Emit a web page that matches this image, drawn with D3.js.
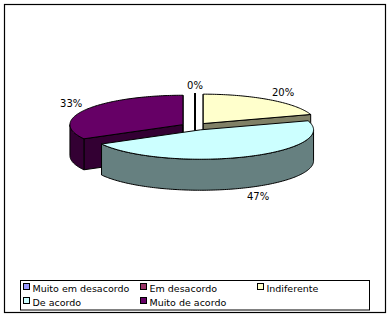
<!DOCTYPE html>
<html>
<head>
<meta charset="utf-8">
<script src="https://cdn.jsdelivr.net/npm/d3@7"></script>
<style>
  body { margin: 0; background: #fff; }
  svg { display: block; }
  text { font-family: Verdana, "DejaVu Sans", sans-serif; fill: #000; }
</style>
</head>
<body>
<svg id="chart" width="391" height="318"></svg>
<script>
// data
var categories = ["Muito em desacordo", "Em desacordo", "Indiferente", "De acordo", "Muito de acordo"];
var values = [0, 0, 20, 47, 33];
var labels = ["0%", "0%", "20%", "47%", "33%"];
var topColors = ["#9999FF", "#993366", "#FFFFCC", "#CCFFFF", "#660066"];
var sideColors = ["#4C4C80", "#4C1933", "#808066", "#668080", "#330033"];

var width = 391, height = 318,
    cx = 195, cy = 126.5, rx = 113, ry = 29.4, depth = 31, explode = 14;

var svg = d3.select("#chart");

// chart border
svg.append("rect")
    .attr("x", 4.5).attr("y", 4.5)
    .attr("width", 381).attr("height", 308)
    .attr("fill", "#fff").attr("stroke", "#000").attr("stroke-width", 1.2);

// ellipse scales (unit circle -> screen)
var x = d3.scaleLinear().domain([-1, 1]).range([cx - rx, cx + rx]);
var y = d3.scaleLinear().domain([-1, 1]).range([cy - ry, cy + ry]);
var k = ry / rx;

var pie = d3.pie().sort(null).startAngle(0).endAngle(2 * Math.PI);
var slices = pie(values).map(function(d, i) {
    var mid = (d.startAngle + d.endAngle) / 2;
    d.i = i;
    d.mid = mid;
    d.ox = explode * Math.sin(mid);
    d.oy = -explode * k * Math.cos(mid);
    return d;
});

function pt(d, a, r, dz) {
    return [x(r * Math.sin(a)) + d.ox, y(-r * Math.cos(a)) + d.oy + (dz || 0)];
}
function arcPts(d, a1, a2, dz) {
    var n = Math.max(2, Math.ceil(Math.abs(a2 - a1) / 0.02));
    return d3.range(n + 1).map(function(j) { return pt(d, a1 + (a2 - a1) * j / n, 1, dz); });
}
var line = d3.line();

// back to front
var order = slices.slice().sort(function(a, b) { return d3.ascending(-Math.cos(a.mid), -Math.cos(b.mid)); });

var g = svg.append("g")
    .attr("stroke", "#000").attr("stroke-width", 1).attr("stroke-linejoin", "round");

order.forEach(function(d) {
    var c = pt(d, 0, 0), cb = pt(d, 0, 0, depth);
    // radial cut faces
    [[d.startAngle, Math.sin(d.startAngle) <= 1e-9], [d.endAngle, Math.sin(d.endAngle) >= -1e-9]].forEach(function(e) {
        if (!e[1]) return;
        var r = pt(d, e[0], 1), rb = pt(d, e[0], 1, depth);
        g.append("path")
            .attr("d", line([c, r, rb, cb]) + "Z")
            .attr("fill", sideColors[d.i]);
    });
    // outer wall (front half only)
    var a1 = Math.max(d.startAngle, Math.PI / 2), a2 = Math.min(d.endAngle, 3 * Math.PI / 2);
    if (a2 > a1) {
        var pts = arcPts(d, a1, a2, 0).concat(arcPts(d, a2, a1, depth));
        g.append("path")
            .attr("d", line(pts) + "Z")
            .attr("fill", sideColors[d.i]);
    }
    // top face
    g.append("path")
        .attr("d", line([c].concat(arcPts(d, d.startAngle, d.endAngle, 0))) + "Z")
        .attr("fill", topColors[d.i]);
});

// data labels
var seen = {};
slices.forEach(function(d) {
    var key = labels[d.i] + d.mid.toFixed(3);
    if (seen[key]) return;
    seen[key] = true;
    var s = Math.sin(d.mid), cs = -Math.cos(d.mid);
    var rim = pt(d, d.mid, 1, cs > 0 ? depth : 0);
    var ax = rim[0] + 4 * s, ay = rim[1] + 4 * cs;
    var hw = labels[d.i].length * 3.7, hh = 4.5;
    var lx = ax + (Math.abs(s) < 0.1 ? 0 : Math.sign(s) * hw);
    var ly = ay + (Math.abs(cs) < 0.1 ? 0 : Math.sign(cs) * hh);
    svg.append("text")
        .attr("x", lx).attr("y", ly + 3.6)
        .attr("text-anchor", "middle")
        .style("font-size", "10px")
        .text(labels[d.i]);
});

// legend
var legend = svg.append("g");
legend.append("rect")
    .attr("x", 20.5).attr("y", 280.5)
    .attr("width", 349).attr("height", 29.5)
    .attr("fill", "#fff").attr("stroke", "#000");

var items = legend.selectAll("g.item")
    .data(categories)
    .enter().append("g")
    .attr("class", "item")
    .attr("transform", function(d, i) { return "translate(" + (23 + (i % 3) * 117) + "," + (283 + Math.floor(i / 3) * 14) + ")"; });

items.append("rect")
    .attr("x", 0.5).attr("y", 0.5)
    .attr("width", 6).attr("height", 6)
    .attr("fill", function(d, i) { return topColors[i]; })
    .attr("stroke", "#000");

items.append("text")
    .attr("x", 9.5).attr("y", 8.5)
    .style("font-size", "9.5px")
    .text(function(d) { return d; });
</script>
</body>
</html>
